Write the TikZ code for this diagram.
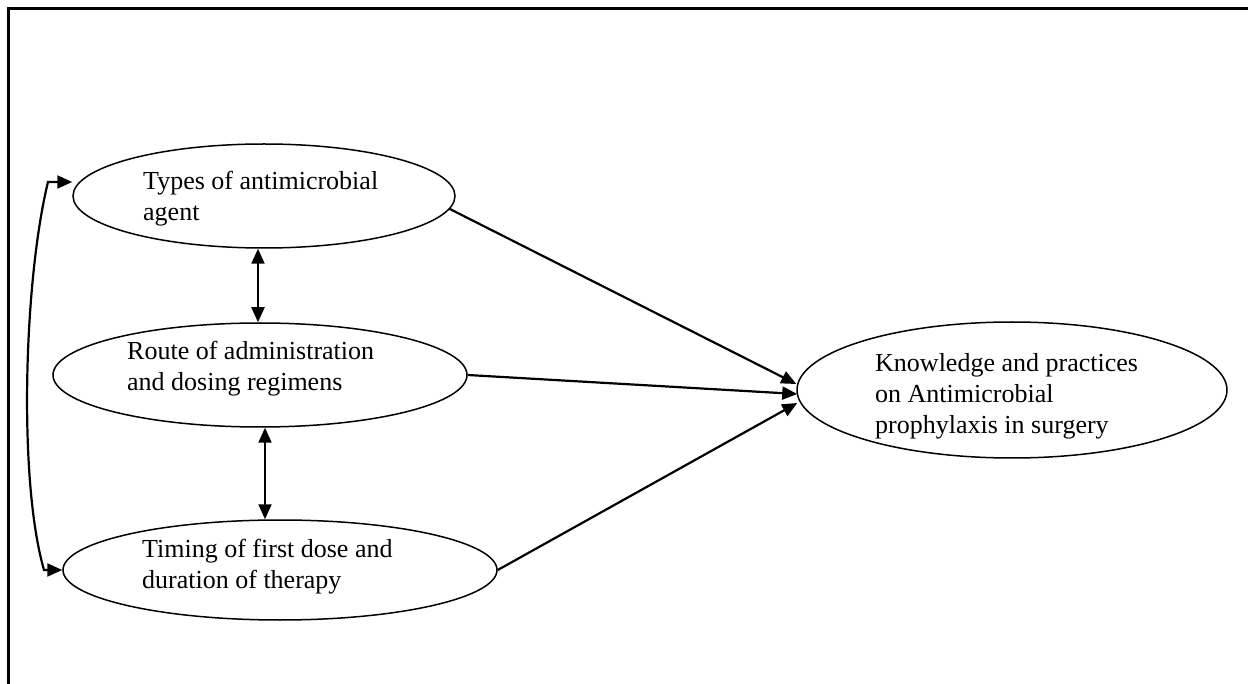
\documentclass[tikz,border=0pt]{standalone}
\usepackage{fontspec}
\setmainfont{Liberation Serif}
\usetikzlibrary{shapes.geometric,arrows.meta,calc}
\begin{document}
\begin{tikzpicture}[x=1pt,y=-1pt,
  oval/.style={draw,ellipse,line width=1.5pt,inner sep=0pt},
  lbl/.style={anchor=west,align=left,font=\fontsize{26}{31}\selectfont,inner sep=0pt},
  conn/.style={line width=2.2pt},
  tip/.style={conn,-{Triangle[length=15pt,width=13pt]}},
  dbl/.style={conn,{Triangle[length=15pt,width=13pt]}-{Triangle[length=15pt,width=13pt]}}]
\useasboundingbox (0,0) rectangle (1248,684);
% frame
\draw[line width=3pt] (1248,9) -- (8,9) -- (8,684);
% ellipses
\node[oval,minimum width=382pt,minimum height=104pt] (e1) at (264,196) {};
\node[oval,minimum width=414pt,minimum height=104pt] (e2) at (260,375) {};
\node[oval,minimum width=434pt,minimum height=100pt] (e3) at (280,570) {};
\node[oval,minimum width=430pt,minimum height=136pt] (e4) at (1012,390) {};
% texts
\node[lbl] (t1) at (143,199) {Types of antimicrobial\\agent};
\node[lbl] (t2) at (127,369) {Route of administration\\and dosing regimens};
\node[lbl] (t3) at (142,567) {Timing of first dose and\\duration of therapy};
\node[lbl] (t4) at (875,396) {Knowledge and practices\\on Antimicrobial\\prophylaxis in surgery};
% vertical double arrows
\coordinate (xa) at (258,0);
\coordinate (xb) at (265,0);
\draw[dbl] (xa |- e1.south) -- (xa |- e2.north);
\draw[dbl] (xb |- e2.south) -- (xb |- e3.north);
% arrows to outcome
\draw[tip] (e1.-4) -- ($(e4.west)+(0,-6)$);
\draw[tip] (e2.east) -- ($(e4.west)+(1,4)$);
\draw[tip] (e3.east) -- ($(e4.west)+(1,13)$);
% left curved double arrow
\coordinate (c1) at (48,182);
\coordinate (c3) at (44,570);
\draw[dbl]
  (e1.west |- c1) -- (c1) .. controls (24,280) and (18,480) .. (c3) -- (e3.west);
\end{tikzpicture}
\end{document}
